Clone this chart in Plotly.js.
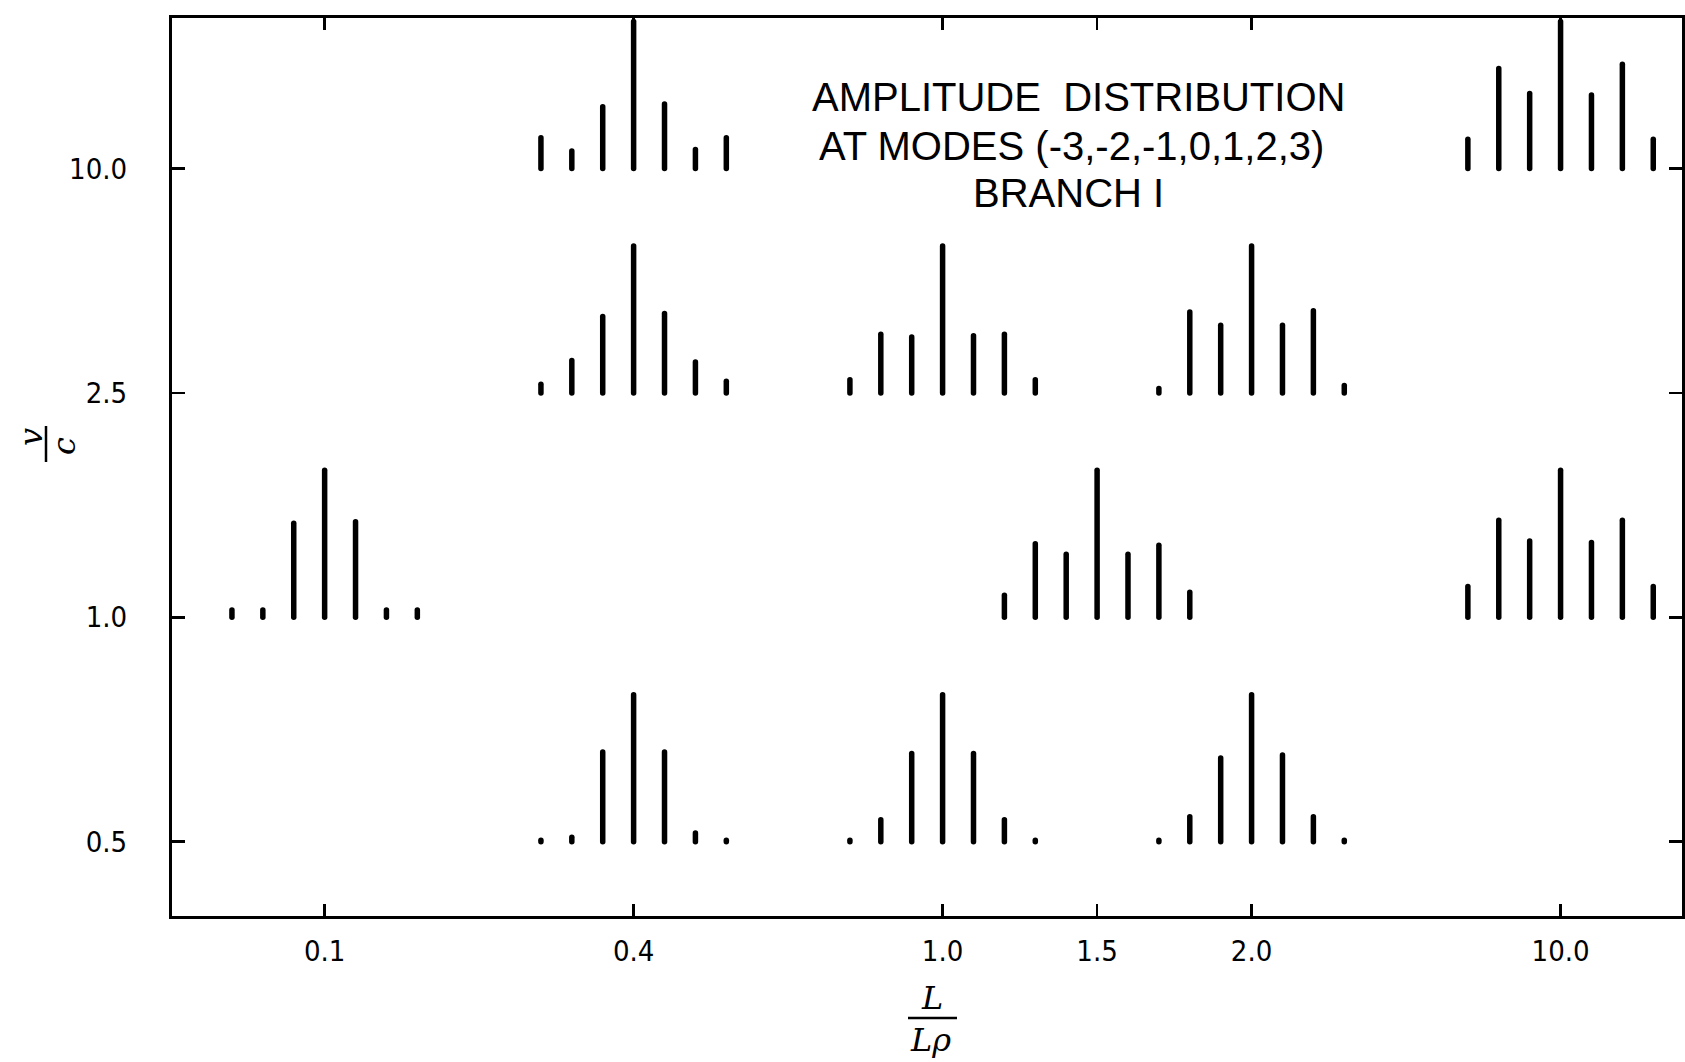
<!DOCTYPE html>
<html>
<head>
<meta charset="utf-8">
<script src="https://cdn.plot.ly/plotly-3.0.1.min.js"></script>
<style>
  html, body { margin: 0; padding: 0; background: #ffffff; }
  #chart { width: 1685px; height: 1062px; }
  .js-line { stroke-linecap: round; }
</style>
</head>
<body>
<div id="chart"></div>
<script>
// ---------------- DATA ----------------
// x axis: L / L_rho  (plotted at evenly spaced positions, 1.5 midway between 1.0 and 2.0)
const xTickLabels = ['0.1', '0.4', '1.0', '1.5', '2.0', '10.0'];
const xTickPos    = [0, 1, 2, 2.5, 3, 4];
// y axis: v / c  (evenly spaced rows)
const yTickLabels = ['0.5', '1.0', '2.5', '10.0'];
const yTickPos    = [0, 1, 2, 3];
// modes shown in every group
const modes = [-3, -2, -1, 0, 1, 2, 3];

// relative amplitudes (centre mode = 1), one array per group
// row v/c = 10.0
const amp_v10_L04  = [0.21, 0.12, 0.42, 1.00, 0.44, 0.13, 0.21];
const amp_v10_L10  = [0.20, 0.68, 0.51, 1.00, 0.50, 0.71, 0.20];
// row v/c = 2.5
const amp_v25_L04  = [0.06, 0.22, 0.52, 1.00, 0.54, 0.21, 0.08];
const amp_v25_L1   = [0.09, 0.40, 0.38, 1.00, 0.39, 0.40, 0.09];
const amp_v25_L2   = [0.03, 0.55, 0.46, 1.00, 0.46, 0.56, 0.05];
// row v/c = 1.0
const amp_v1_L01   = [0.05, 0.05, 0.64, 1.00, 0.65, 0.05, 0.05];
const amp_v1_L15   = [0.15, 0.50, 0.43, 1.00, 0.43, 0.49, 0.17];
const amp_v1_L10   = [0.21, 0.66, 0.52, 1.00, 0.51, 0.66, 0.21];
// row v/c = 0.5
const amp_v05_L04  = [0.01, 0.03, 0.61, 1.00, 0.61, 0.06, 0.01];
const amp_v05_L1   = [0.01, 0.15, 0.60, 1.00, 0.60, 0.15, 0.01];
const amp_v05_L2   = [0.01, 0.17, 0.57, 1.00, 0.59, 0.17, 0.01];

// which group sits where: [L/Lrho label, v/c label, amplitudes]
const groups = [
  ['0.4',  '10.0', amp_v10_L04],
  ['10.0', '10.0', amp_v10_L10],
  ['0.4',  '2.5',  amp_v25_L04],
  ['1.0',  '2.5',  amp_v25_L1],
  ['2.0',  '2.5',  amp_v25_L2],
  ['0.1',  '1.0',  amp_v1_L01],
  ['1.5',  '1.0',  amp_v1_L15],
  ['10.0', '1.0',  amp_v1_L10],
  ['0.4',  '0.5',  amp_v05_L04],
  ['1.0',  '0.5',  amp_v05_L1],
  ['2.0',  '0.5',  amp_v05_L2]
];

// ---------------- STYLE / LAYOUT HELPERS ----------------
const MODE_STEP = 0.1;   // horizontal spacing of modes within a group (axis units)
const AMP_LEN   = 0.655; // drawn length of unit amplitude (axis units)

const xs = [], ys = [];
groups.forEach(([lx, vy, amps]) => {
  const x0 = xTickPos[xTickLabels.indexOf(lx)];
  const y0 = yTickPos[yTickLabels.indexOf(vy)];
  modes.forEach((m, i) => {
    const x = x0 + m * MODE_STEP;
    xs.push(x, x, null);
    ys.push(y0, y0 + amps[i] * AMP_LEN, null);
  });
});

const PL = 172, PR = 1682, PT = 18, PB = 916;
const px = x => (x - PL) / (PR - PL);
const py = y => (PB - y) / (PB - PT);

const tickFont = { family: '"DejaVu Sans Condensed", "Liberation Sans", sans-serif', size: 29, color: '#000' };
const titleFont = { family: '"Liberation Sans", "DejaVu Sans", sans-serif', size: 40, color: '#000' };
const handFont = { family: '"DejaVu Serif", "Liberation Serif", serif', size: 32, color: '#000' };

const trace = {
  type: 'scatter', mode: 'lines', x: xs, y: ys,
  connectgaps: false, hoverinfo: 'skip',
  line: { color: '#000', width: 5.5, simplify: false },
  showlegend: false
};

const layout = {
  width: 1685, height: 1062,
  margin: { l: PL, r: 1685 - PR, t: PT, b: 1062 - PB, pad: 0 },
  paper_bgcolor: '#fff', plot_bgcolor: '#fff',
  showlegend: false,
  xaxis: {
    range: [-0.494, 4.393], tickvals: xTickPos, ticktext: xTickLabels,
    ticks: 'inside', ticklen: 12, tickwidth: 2.5, tickcolor: '#000',
    showline: true, linewidth: 3, linecolor: '#000', mirror: 'ticks',
    showgrid: false, zeroline: false, tickfont: tickFont, ticklabelstandoff: 7,
    fixedrange: true
  },
  yaxis: {
    range: [-0.331, 3.671], tickvals: yTickPos, ticktext: yTickLabels,
    ticks: 'inside', ticklen: 13, tickwidth: 2.5, tickcolor: '#000',
    showline: true, linewidth: 3, linecolor: '#000', mirror: 'ticks',
    showgrid: false, zeroline: false, tickfont: tickFont, ticklabelstandoff: 36,
    fixedrange: true
  },
  annotations: [
    { text: 'AMPLITUDE  DISTRIBUTION', xref: 'paper', yref: 'paper', x: px(1078), y: py(97), xanchor: 'center', yanchor: 'middle', showarrow: false, font: titleFont },
    { text: 'AT MODES (-3,-2,-1,0,1,2,3)', xref: 'paper', yref: 'paper', x: px(1071), y: py(146), xanchor: 'center', yanchor: 'middle', showarrow: false, font: titleFont },
    { text: 'BRANCH I', xref: 'paper', yref: 'paper', x: px(1068), y: py(193), xanchor: 'center', yanchor: 'middle', showarrow: false, font: titleFont },
    // y axis title  v / c (rotated fraction)
    { text: '<i>v</i>', xref: 'paper', yref: 'paper', x: px(31), y: py(437), xanchor: 'center', yanchor: 'middle', textangle: -90, showarrow: false, font: handFont },
    { text: '<i>c</i>', xref: 'paper', yref: 'paper', x: px(64), y: py(446), xanchor: 'center', yanchor: 'middle', textangle: -90, showarrow: false, font: handFont },
    // x axis title  L / L rho
    { text: '<i>L</i>', xref: 'paper', yref: 'paper', x: px(932), y: py(998), xanchor: 'center', yanchor: 'middle', showarrow: false, font: handFont },
    { text: '<i>Lρ</i>', xref: 'paper', yref: 'paper', x: px(930), y: py(1040), xanchor: 'center', yanchor: 'middle', showarrow: false, font: handFont }
  ],
  shapes: [
    { type: 'line', xref: 'paper', yref: 'paper', x0: px(46), x1: px(46), y0: py(426), y1: py(462), line: { color: '#000', width: 2.5 } },
    { type: 'line', xref: 'paper', yref: 'paper', x0: px(908), x1: px(957), y0: py(1018), y1: py(1018), line: { color: '#000', width: 2.5 } }
  ]
};

Plotly.newPlot('chart', [trace], layout, { displayModeBar: false, staticPlot: true });
</script>
</body>
</html>
